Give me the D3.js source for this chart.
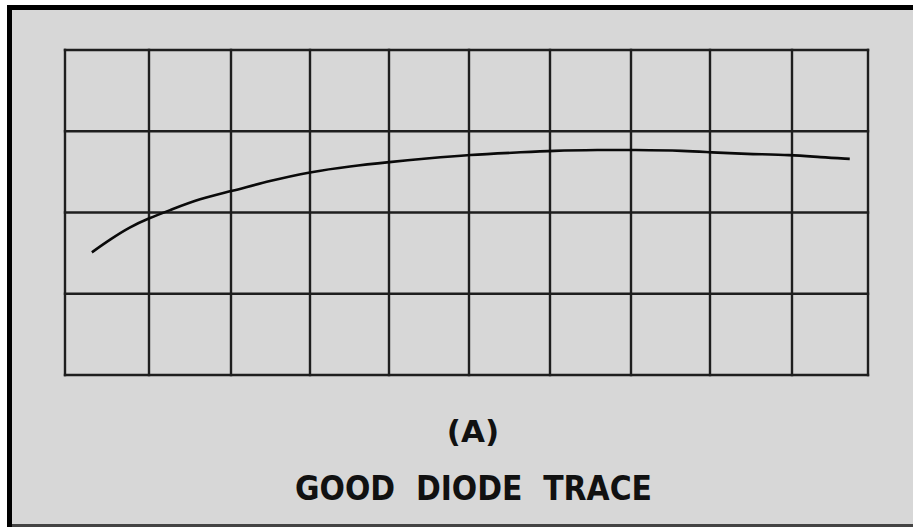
<!DOCTYPE html>
<html>
<head>
<meta charset="utf-8">
<script src="https://cdn.jsdelivr.net/npm/d3@7"></script>
<style>
  html, body { margin: 0; padding: 0; background: #ffffff; }
  svg { display: block; }
</style>
</head>
<body>
<svg id="chart" width="913" height="527"></svg>
<script>
// Grid divisions (oscilloscope-style graticule)
const xDivisions = [0,1,2,3,4,5,6,7,8,9,10];
const yDivisions = [0,1,2,3,4];

// Trace data (in graticule divisions)
const traceX = [0.32,0.54,0.77,1.00,1.26,1.62,2.00,2.49,3.00,3.51,4.00,4.51,4.99,5.63,6.02,6.62,7.01,7.71,8.00,8.43,9.00,9.37,9.76];
const traceY = [1.51,1.67,1.82,1.93,2.03,2.17,2.26,2.39,2.50,2.57,2.62,2.67,2.71,2.74,2.76,2.77,2.77,2.76,2.74,2.72,2.71,2.68,2.66];

const subLabel = "(A)";
const title = "GOOD DIODE TRACE";

const svg = d3.select("#chart");

// frame
svg.append("rect").attr("x",7).attr("y",5).attr("width",906).attr("height",522).attr("fill","#000");
svg.append("rect").attr("x",12).attr("y",10).attr("width",901).attr("height",515).attr("fill","#d7d7d7");
svg.append("rect").attr("x",12).attr("y",524).attr("width",901).attr("height",3).attr("fill","#444");

// graticule positions as drawn in the original (slightly uneven divisions)
const x = d3.scaleLinear().domain(xDivisions).range([65,149,231,310,389,469,550,631,710,792,868]);
const y = d3.scaleLinear().domain([0,4]).range([375,50]);

const g = svg.append("g");
g.selectAll("line.v").data(xDivisions).join("line")
  .attr("x1",d=>x(d)).attr("x2",d=>x(d))
  .attr("y1",y(0)+1.2).attr("y2",y(4)-1.2)
  .attr("stroke","#1e1e1e").attr("stroke-width",2.4);
g.selectAll("line.h").data(yDivisions).join("line")
  .attr("y1",d=>y(d)).attr("y2",d=>y(d))
  .attr("x1",x(0)-1.2).attr("x2",x(10)+1.2)
  .attr("stroke","#1e1e1e").attr("stroke-width",2.4);

const pts = traceX.map((v,i)=>[v,traceY[i]]);
const line = d3.line().x(d=>x(d[0])).y(d=>y(d[1])).curve(d3.curveBasis);
svg.append("path").datum(pts).attr("d",line)
  .attr("fill","none").attr("stroke","#0a0a0a").attr("stroke-width",2.6);

svg.append("text").attr("x",473).attr("y",442).attr("text-anchor","middle")
  .attr("font-family","DejaVu Sans").attr("font-weight","bold").attr("font-size",31)
  .attr("fill","#111").text(subLabel);

svg.append("text").attr("x",295).attr("y",500)
  .attr("font-family","DejaVu Sans").attr("font-weight","bold").attr("font-size",34)
  .attr("textLength",357).attr("lengthAdjust","spacingAndGlyphs")
  .attr("fill","#111").attr("xml:space","preserve").style("white-space","pre")
  .text(title.replace(/ /g,"  "));
</script>
</body>
</html>
